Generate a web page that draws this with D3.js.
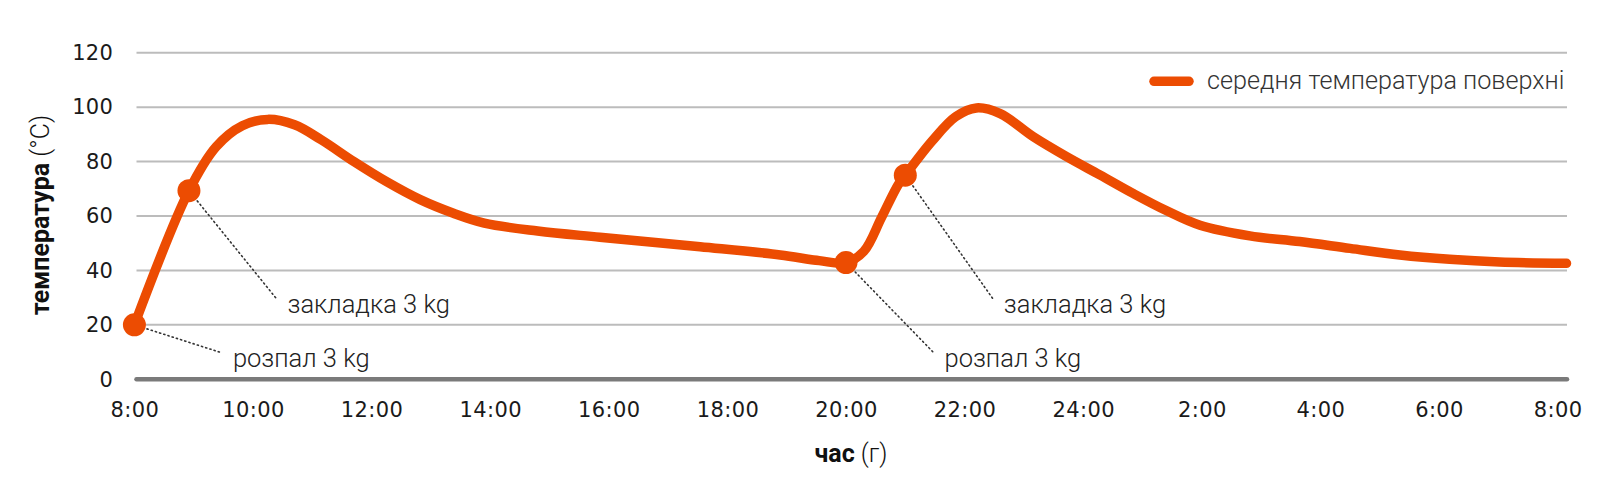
<!DOCTYPE html>
<html>
<head>
<meta charset="utf-8">
<script src="https://cdn.jsdelivr.net/npm/d3@7"></script>
<style>
  html, body { margin: 0; padding: 0; background: #fff; }
  svg { display: block; }
</style>
</head>
<body>
<svg id="chart" width="1600" height="486"></svg>
<script>
// ---- data ----
const hours = [0, 0.92, 1.38, 1.82, 2.25, 2.7, 3.15, 3.7, 4.26, 4.82, 5.38, 5.9, 6.8, 7.85, 9.54, 10.89, 11.55, 12, 12.3, 12.6, 12.88, 13, 13.45, 13.85, 14.2, 14.6, 15.16, 15.72, 16.28, 16.84, 17.4, 17.97, 18.81, 19.65, 20.5, 21.34, 22.18, 23.02, 24.15];
const temps = [20, 69.3, 85.5, 93.2, 95.5, 93.5, 88, 80, 72.5, 66, 61, 57.4, 54.5, 52.2, 48.7, 45.7, 43.6, 42.9, 47, 59.5, 71.5, 75, 87.5, 96.5, 99.7, 97.6, 89.1, 81.8, 75.1, 68.3, 62, 56.6, 52.7, 50.6, 48.1, 45.7, 44.1, 43.1, 42.6];
const yTicks = [0, 20, 40, 60, 80, 100, 120];
const xTickHours = [0, 2, 4, 6, 8, 10, 12, 14, 16, 18, 20, 22, 24];
const xTickLabels = ["8:00", "10:00", "12:00", "14:00", "16:00", "18:00", "20:00", "22:00", "24:00", "2:00", "4:00", "6:00", "8:00"];
const markerIdx = [0, 1, 17, 21];
const markerText = ["розпал 3 kg", "закладка 3 kg", "розпал 3 kg", "закладка 3 kg"];
const seriesName = "середня температура поверхні";

// ---- layout ----
const svg = d3.select("#chart");
const x = d3.scaleLinear().domain([0, 24]).range([134.4, 1557.6]);
const y = d3.scaleLinear().domain([0, 120]).range([379.3, 52.7]);
const gridX0 = 136.5, gridX1 = 1567;
const orange = "#ec4c02";
const tickFont = "'DejaVu Sans', sans-serif";
const textFont = "Roboto, sans-serif";

// gridlines
const grid = svg.append("g");
grid.selectAll("line").data(yTicks).join("line")
  .attr("x1", gridX0).attr("x2", gridX1)
  .attr("y1", d => y(d)).attr("y2", d => y(d))
  .attr("stroke", d => d === 0 ? "#7a7a7a" : "#bcbcbc")
  .attr("stroke-width", d => d === 0 ? 4.5 : 2)
  .attr("stroke-linecap", d => d === 0 ? "round" : "butt");

// y tick labels
const yAxis = d3.axisLeft(y).tickValues(yTicks).tickSize(0).tickPadding(0);
const gy = svg.append("g").attr("transform", "translate(113,0)").call(yAxis);
gy.select(".domain").remove();
gy.selectAll("text").attr("font-family", tickFont).attr("font-size", 21)
  .attr("fill", "#1a1a1a").attr("letter-spacing", 0.2);

// x tick labels
const xAxis = d3.axisBottom(x).tickValues(xTickHours).tickSize(0).tickPadding(0)
  .tickFormat((d, i) => xTickLabels[i]);
const gx = svg.append("g").attr("transform", "translate(0,402)").call(xAxis);
gx.select(".domain").remove();
gx.selectAll("text").attr("font-family", tickFont).attr("font-size", 21)
  .attr("fill", "#1a1a1a").attr("letter-spacing", 0.4).attr("dy", "0.71em");

// annotations (dotted leaders)
const ann = svg.append("g");
markerIdx.forEach((idx, i) => {
  const px = x(hours[idx]), py = y(temps[idx]);
  const isFire = markerText[i].startsWith("розпал");
  const baseY = isFire ? 367 : 313.3;
  const ex = px + 88, ey = baseY - 14;
  ann.append("line")
    .attr("x1", px).attr("y1", py).attr("x2", ex).attr("y2", ey)
    .attr("stroke", "#333").attr("stroke-width", 1.6)
    .attr("stroke-dasharray", "1.2,3.2").attr("stroke-linecap", "round");
  ann.append("text")
    .attr("x", ex + 10.5).attr("y", baseY)
    .attr("font-family", textFont).attr("font-weight", 300).attr("font-size", 25.5)
    .attr("fill", "#222")
    .text(markerText[i]);
});

// series line
const data = hours.map((h, i) => ({ h, t: temps[i] }));
const line = d3.line().x(d => x(d.h)).y(d => y(d.t)).curve(d3.curveCatmullRom.alpha(0.5));
svg.append("path").datum(data)
  .attr("d", line)
  .attr("fill", "none").attr("stroke", orange).attr("stroke-width", 9.5)
  .attr("stroke-linecap", "round").attr("stroke-linejoin", "round");

// markers
svg.append("g").selectAll("circle").data(markerIdx).join("circle")
  .attr("cx", i => x(hours[i])).attr("cy", i => y(temps[i]))
  .attr("r", 11.5).attr("fill", orange);

// legend
const lg = svg.append("g");
lg.append("line").attr("x1", 1154).attr("x2", 1189).attr("y1", 81.3).attr("y2", 81.3)
  .attr("stroke", orange).attr("stroke-width", 9.5).attr("stroke-linecap", "round");
lg.append("text").attr("x", 1207).attr("y", 88.5)
  .attr("font-family", textFont).attr("font-weight", 300).attr("font-size", 25.2)
  .attr("fill", "#333").text(seriesName);

// y title
const yt = svg.append("text")
  .attr("transform", "translate(49,215) rotate(-90)")
  .attr("text-anchor", "middle")
  .attr("font-family", textFont).attr("font-size", 25).attr("fill", "#111");
yt.append("tspan").attr("font-weight", 700).text("температура");
yt.append("tspan").attr("font-weight", 300).text(" (°C)");

// x title
const xt = svg.append("text")
  .attr("x", 851).attr("y", 461.7).attr("text-anchor", "middle")
  .attr("font-family", textFont).attr("font-size", 25).attr("fill", "#111");
xt.append("tspan").attr("font-weight", 700).text("час");
xt.append("tspan").attr("font-weight", 300).text(" (г)");
</script>
</body>
</html>
